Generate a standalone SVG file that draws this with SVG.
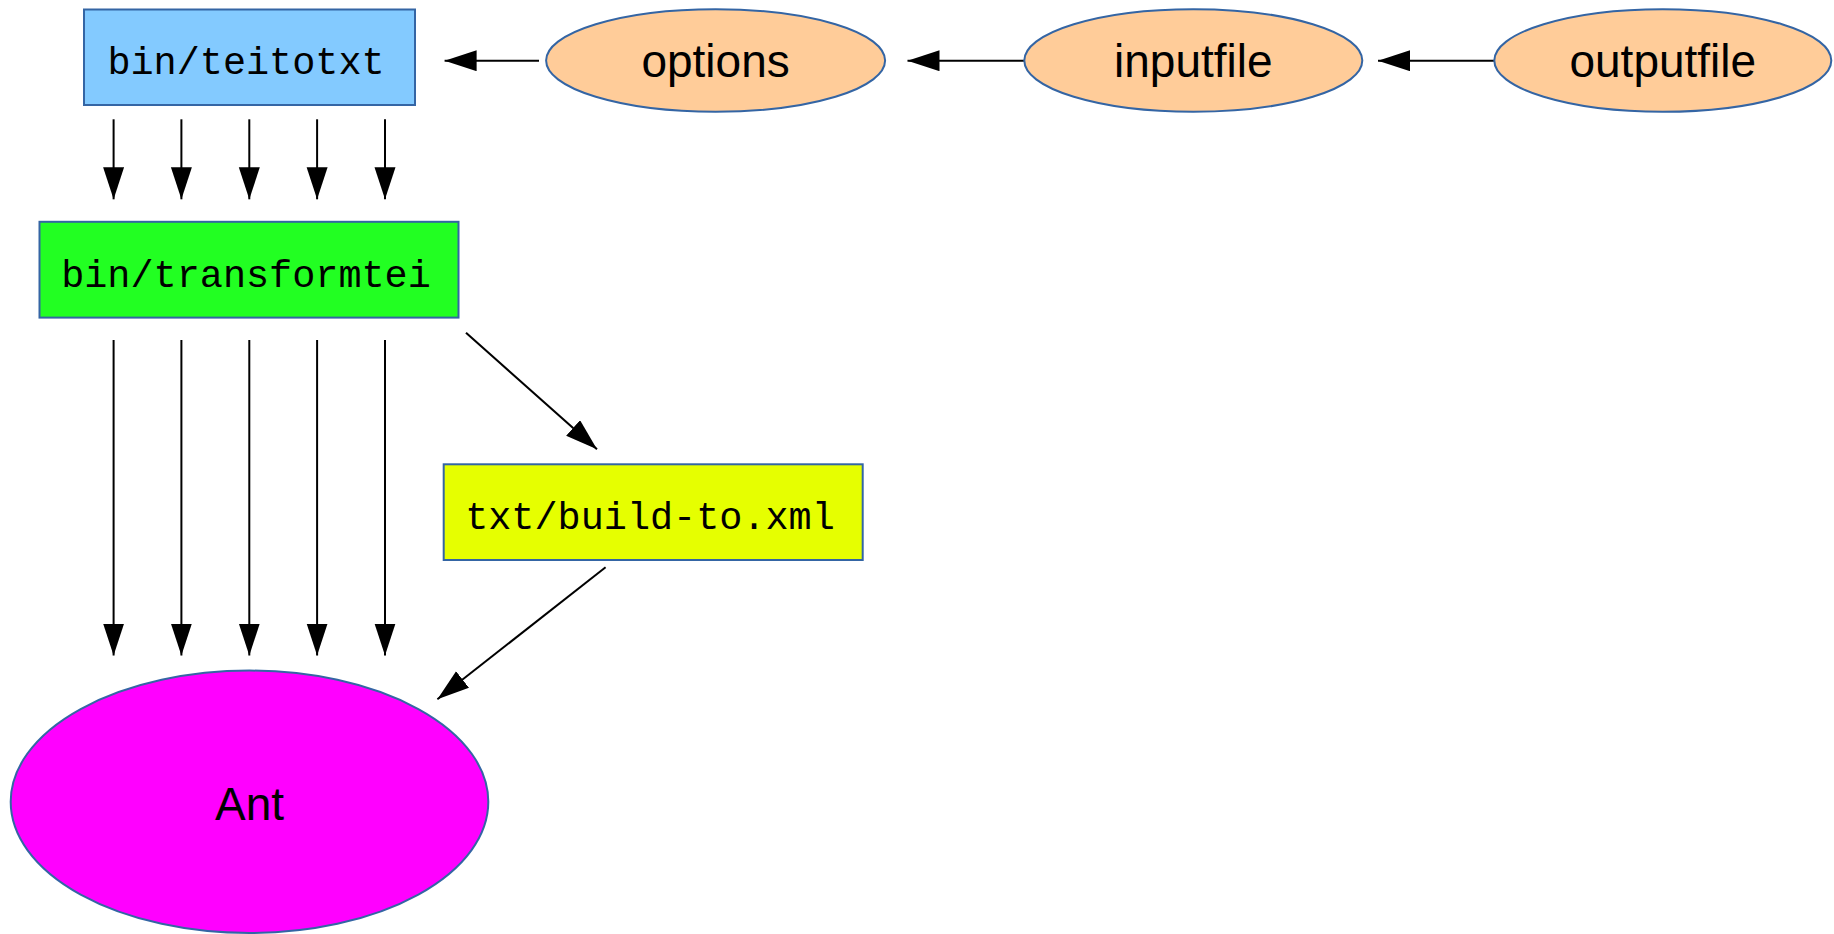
<svg xmlns="http://www.w3.org/2000/svg" width="1834" height="934" viewBox="0 0 1834 934">
<style>
.box{stroke:#3465a4;stroke-width:2}
.ell{stroke:#3465a4;stroke-width:2}
.mono{font-family:"Liberation Mono","DejaVu Sans Mono",monospace;font-size:38.5px;fill:#000}
.sans{font-family:"Liberation Sans",Arial,sans-serif;font-size:46px;fill:#000}
.edge{stroke:#000;stroke-width:2;fill:none;marker-end:url(#ah)}
</style>
<defs>
<marker id="ah" markerUnits="userSpaceOnUse" markerWidth="33" markerHeight="22" refX="32" refY="10.5" orient="auto">
<path d="M0,0 L32,10.5 L0,21 z" fill="#000"/>
</marker>
</defs>
<rect width="1834" height="934" fill="#fff"/>
<g id="connectors">
<line class="edge" x1="539" y1="60.7" x2="444.6" y2="60.7"/>
<line class="edge" x1="1024.5" y1="60.7" x2="907.5" y2="60.7"/>
<line class="edge" x1="1494.6" y1="60.7" x2="1378" y2="60.7"/>
<line class="edge" x1="113.6" y1="119.3" x2="113.6" y2="199.3"/>
<line class="edge" x1="181.4" y1="119.3" x2="181.4" y2="199.3"/>
<line class="edge" x1="249.3" y1="119.3" x2="249.3" y2="199.3"/>
<line class="edge" x1="317.1" y1="119.3" x2="317.1" y2="199.3"/>
<line class="edge" x1="385" y1="119.3" x2="385" y2="199.3"/>
<line class="edge" x1="113.6" y1="340" x2="113.6" y2="655.5"/>
<line class="edge" x1="181.4" y1="340" x2="181.4" y2="655.5"/>
<line class="edge" x1="249.3" y1="340" x2="249.3" y2="655.5"/>
<line class="edge" x1="317.1" y1="340" x2="317.1" y2="655.5"/>
<line class="edge" x1="385" y1="340" x2="385" y2="655.5"/>
<line class="edge" x1="466" y1="332.7" x2="597" y2="449.3"/>
<line class="edge" x1="605.6" y1="567.3" x2="437.4" y2="699.3"/>
</g>
<g id="teitotxt">
<rect class="box" x="84" y="9.5" width="331" height="95.5" fill="#83caff"/>
<text class="mono" x="246" y="74" text-anchor="middle">bin/teitotxt</text>
</g>
<g id="transformtei">
<rect class="box" x="39.5" y="221.8" width="419" height="95.8" fill="#22ff22"/>
<text class="mono" x="246" y="287" text-anchor="middle">bin/transformtei</text>
</g>
<g id="buildto">
<rect class="box" x="443.7" y="464.3" width="419" height="95.7" fill="#e6ff00"/>
<text class="mono" x="650" y="528.5" text-anchor="middle">txt/build-to.xml</text>
</g>
<g id="options">
<ellipse class="ell" cx="715.6" cy="60.5" rx="169.5" ry="51.3" fill="#ffcc99"/>
<text class="sans" x="715.6" y="77" text-anchor="middle">options</text>
</g>
<g id="inputfile">
<ellipse class="ell" cx="1193.3" cy="60.5" rx="169" ry="51.3" fill="#ffcc99"/>
<text class="sans" x="1193.3" y="77" text-anchor="middle">inputfile</text>
</g>
<g id="outputfile">
<ellipse class="ell" cx="1662.8" cy="60.5" rx="168.5" ry="51.3" fill="#ffcc99"/>
<text class="sans" x="1662.8" y="77" text-anchor="middle">outputfile</text>
</g>
<g id="ant">
<ellipse class="ell" cx="249.5" cy="801.8" rx="238.8" ry="131.2" fill="#ff00ff"/>
<text class="sans" x="249.5" y="820" text-anchor="middle">Ant</text>
</g>
</svg>
